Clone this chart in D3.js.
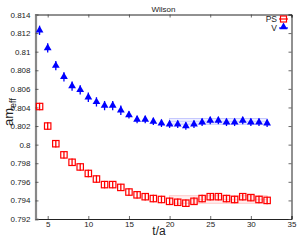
<!DOCTYPE html>
<html>
<head>
<meta charset="utf-8">
<script src="https://cdn.jsdelivr.net/npm/d3@7"></script>
<style>
    body { margin: 0; background: #fff; }
    svg text { font-family: "Liberation Sans", Arial, sans-serif; fill: #222; }
</style>
</head>
<body>
<div id="chart"></div>
<script>
// time slices
var tValues = [4, 5, 6, 7, 8, 9, 10, 11, 12, 13, 14, 15, 16, 17, 18, 19, 20, 21, 22, 23, 24, 25, 26, 27, 28, 29, 30, 31, 32];

// vector channel
var vMass = [0.8123, 0.8104, 0.8085, 0.8073, 0.8063, 0.8059, 0.8051, 0.8046, 0.8042, 0.8042, 0.8037, 0.8032,
    0.8027, 0.8027, 0.8025, 0.8023, 0.8022, 0.8022, 0.8020, 0.8022, 0.8024, 0.8026, 0.8026, 0.8024,
    0.8024, 0.8026, 0.8024, 0.8024, 0.8023];
var vErr = [0.0005, 0.0005, 0.0005, 0.0005, 0.0005, 0.0005, 0.0005, 0.0005, 0.0005, 0.0005, 0.0005, 0.0004,
    0.0004, 0.0004, 0.0004, 0.0004, 0.0004, 0.0004, 0.0004, 0.0004, 0.0004, 0.0004, 0.0004, 0.0004,
    0.0004, 0.0004, 0.0004, 0.0004, 0.0004];

// pseudoscalar channel
var psMass = [0.8041, 0.8020, 0.8001, 0.7989, 0.7981, 0.7976, 0.7969, 0.7963, 0.7957, 0.7957, 0.7954, 0.7949,
    0.7946, 0.7944, 0.7942, 0.7941, 0.7939, 0.7938, 0.7937, 0.7939, 0.7942, 0.7944, 0.7944, 0.7942,
    0.7941, 0.7944, 0.7943, 0.7941, 0.7940];
var psErr = [0.0004, 0.0004, 0.0004, 0.0004, 0.0004, 0.0004, 0.0004, 0.0004, 0.0004, 0.0004, 0.0004, 0.0004,
    0.0004, 0.0004, 0.0004, 0.0004, 0.0004, 0.0004, 0.0004, 0.0004, 0.0004, 0.0004, 0.0004, 0.0004,
    0.0004, 0.0004, 0.0004, 0.0004, 0.0004];

// plateau fits: [t start, t end, value, error]
var vFit = [20, 32, 0.8025, 0.0003];
var psFit = [20, 32, 0.7941, 0.0004];

var xTicks = [5, 10, 15, 20, 25, 30, 35];
var yTicks = [0.792, 0.794, 0.796, 0.798, 0.8, 0.802, 0.804, 0.806, 0.808, 0.81, 0.812, 0.814];

var width = 300, height = 240;
var plotLeft = 35.5, plotRight = 291.5, plotTop = 14.5, plotBottom = 219;

var svg = d3.select("#chart").append("svg")
    .attr("width", width)
    .attr("height", height);

var x = d3.scaleLinear().domain([3.5, 35]).range([plotLeft, plotRight]);
var y = d3.scaleLinear().domain([0.792, 0.814]).range([plotBottom, plotTop]);

var fmt = function (d) { return String(+d.toFixed(3)); };

// fit bands
var drawFit = function (fit, fill, stroke) {
    svg.append("rect")
        .attr("x", x(fit[0]))
        .attr("y", y(fit[2] + fit[3]))
        .attr("width", x(fit[1]) - x(fit[0]))
        .attr("height", y(fit[2] - fit[3]) - y(fit[2] + fit[3]))
        .attr("fill", fill)
        .attr("stroke", stroke)
        .attr("stroke-width", 0.8);
    svg.append("line")
        .attr("x1", x(fit[0])).attr("x2", x(fit[1]))
        .attr("y1", y(fit[2])).attr("y2", y(fit[2]))
        .attr("stroke", stroke)
        .attr("stroke-width", 0.6);
}
drawFit(vFit, "#eef0ff", "#b8bcff");
drawFit(psFit, "#fff0f0", "#ffbcbc");

// axes
var xAxis = svg.append("g")
    .attr("transform", "translate(0," + plotBottom + ")")
    .call(d3.axisBottom(x).tickValues(xTicks).tickSize(-3).tickPadding(2).tickFormat(d3.format("d")));
var xTop = svg.append("g")
    .attr("transform", "translate(0," + plotTop + ")")
    .call(d3.axisTop(x).tickValues(xTicks).tickSize(-3).tickFormat(""));
var yAxis = svg.append("g")
    .attr("transform", "translate(" + plotLeft + ",0)")
    .call(d3.axisLeft(y).tickValues(yTicks).tickSize(-3).tickPadding(5).tickFormat(fmt));
var yRight = svg.append("g")
    .attr("transform", "translate(" + plotRight + ",0)")
    .call(d3.axisRight(y).tickValues(yTicks).tickSize(-3).tickFormat(""));

[xAxis, xTop, yAxis, yRight].forEach(function (g) {
    g.select(".domain").attr("stroke", "#222").attr("stroke-width", 1);
    g.selectAll(".tick line").attr("stroke", "#444").attr("stroke-width", 0.8);
    g.selectAll(".tick text").attr("font-size", 8).attr("fill", "#222")
        .attr("font-family", "Liberation Sans, Arial, sans-serif");
});
yAxis.select(".domain").attr("stroke", "#888").attr("stroke-width", 2.2);

// series
var drawErrors = function (vals, errs, color) {
    svg.append("g").selectAll("line")
        .data(tValues)
        .enter().append("line")
        .attr("x1", function (d) { return x(d); })
        .attr("x2", function (d) { return x(d); })
        .attr("y1", function (d, i) { return y(vals[i] - errs[i]); })
        .attr("y2", function (d, i) { return y(vals[i] + errs[i]); })
        .attr("stroke", color)
        .attr("stroke-width", 1.3);
}

drawErrors(psMass, psErr, "#ff0000");
svg.append("g").selectAll("rect")
    .data(tValues)
    .enter().append("rect")
    .attr("x", function (d) { return x(d) - 3.2; })
    .attr("y", function (d, i) { return y(psMass[i]) - 3.2; })
    .attr("width", 6.4)
    .attr("height", 6.4)
    .attr("fill", "none")
    .attr("stroke", "#ff0000")
    .attr("stroke-width", 1.2);

drawErrors(vMass, vErr, "#0000ff");
var tri = d3.symbol().type(d3.symbolTriangle).size(26);
svg.append("g").selectAll("path")
    .data(tValues)
    .enter().append("path")
    .attr("d", tri)
    .attr("transform", function (d, i) { return "translate(" + x(d) + "," + y(vMass[i]) + ")"; })
    .attr("fill", "#0000ff");

// title and labels
svg.append("text")
    .attr("x", (plotLeft + plotRight) / 2)
    .attr("y", 12)
    .attr("text-anchor", "middle")
    .attr("font-size", 8)
    .text("Wilson");

svg.append("text")
    .attr("x", 159)
    .attr("y", 235)
    .attr("text-anchor", "middle")
    .attr("font-size", 12)
    .text("t/a");

// rotated y label, baseline at x = 13
var ylabG = svg.append("g").attr("transform", "translate(13,112) rotate(-90)");
var ylab = ylabG.append("text")
    .attr("x", 0)
    .attr("y", 0)
    .attr("text-anchor", "middle")
    .attr("font-size", 13);
ylab.append("tspan").text("am");
ylab.append("tspan").attr("font-size", 9).attr("dy", 3).text("eff");

// legend
var legend = svg.append("g");
legend.append("text").attr("x", 277).attr("y", 22).attr("text-anchor", "end").attr("font-size", 8.5).text("PS");
legend.append("line").attr("x1", 279).attr("x2", 288).attr("y1", 19).attr("y2", 19)
    .attr("stroke", "#ff0000").attr("stroke-width", 1.2);
legend.append("rect").attr("x", 280.5).attr("y", 16).attr("width", 6).attr("height", 6)
    .attr("fill", "none").attr("stroke", "#ff0000").attr("stroke-width", 1.2);
legend.append("text").attr("x", 277).attr("y", 30.5).attr("text-anchor", "end").attr("font-size", 8.5).text("V");
legend.append("line").attr("x1", 279).attr("x2", 288).attr("y1", 28).attr("y2", 28)
    .attr("stroke", "#0000ff").attr("stroke-width", 1.2);
legend.append("path").attr("d", tri).attr("transform", "translate(283.5,27)").attr("fill", "#0000ff");
</script>
</body>
</html>
